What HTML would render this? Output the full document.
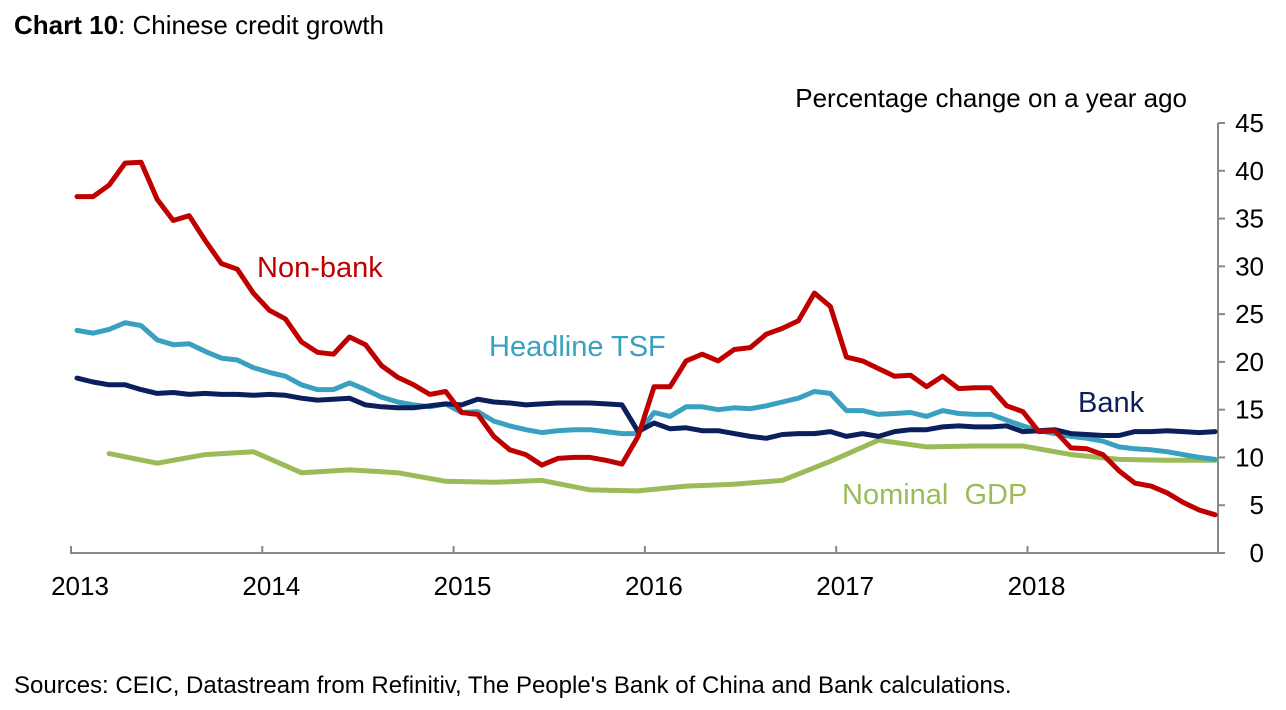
<!DOCTYPE html>
<html><head><meta charset="utf-8"><style>
body{margin:0;background:#fff;width:1286px;height:705px;overflow:hidden;font-family:"Liberation Sans",sans-serif}
</style></head><body>
<svg id="chart" width="1286" height="705" xmlns="http://www.w3.org/2000/svg" font-family="Liberation Sans, sans-serif">
<text x="14" y="34" font-size="26" fill="#000"><tspan font-weight="bold">Chart 10</tspan>: Chinese credit growth</text>
<text x="1187" y="107" font-size="26" text-anchor="end" fill="#000">Percentage change on a year ago</text>
<text x="14" y="693" font-size="24" fill="#000">Sources:  CEIC, Datastream from Refinitiv, The People's Bank of China and Bank calculations.</text>
<g id="axes"></g>
<g id="series"></g>
<text x="257" y="277" font-size="29" fill="#c00000">Non-bank</text>
<text x="489" y="356" font-size="29" fill="#3aa0c0">Headline TSF</text>
<text x="1078" y="412" font-size="29" fill="#0a1f5c">Bank</text>
<text x="842" y="504" font-size="29" fill="#9bbb59" xml:space="preserve">Nominal  GDP</text>
</svg>
<script>
const years=["2013","2014","2015","2016","2017","2018"];
const yTicks=[0,5,10,15,20,25,30,35,40,45];
const nonBank=[37.3,37.3,38.5,40.8,40.9,37,34.8,35.3,32.7,30.3,29.7,27.2,25.4,24.5,22.1,21,20.8,22.6,21.8,19.6,18.4,17.6,16.6,16.9,14.7,14.5,12.2,10.8,10.3,9.2,9.9,10,10,9.7,9.3,12.2,17.4,17.4,20.1,20.8,20.1,21.3,21.5,22.9,23.5,24.3,27.2,25.8,20.5,20.1,19.3,18.5,18.6,17.4,18.5,17.2,17.3,17.3,15.4,14.8,12.7,12.8,11,10.9,10.3,8.6,7.3,7,6.3,5.3,4.5,4];
const tsf=[23.3,23,23.4,24.1,23.8,22.3,21.8,21.9,21.1,20.4,20.2,19.4,18.9,18.5,17.6,17.1,17.1,17.8,17.1,16.3,15.8,15.5,15.3,15.6,14.7,14.8,13.8,13.3,12.9,12.6,12.8,12.9,12.9,12.7,12.5,12.5,14.7,14.3,15.3,15.3,15,15.2,15.1,15.4,15.8,16.2,16.9,16.7,14.9,14.9,14.5,14.6,14.7,14.3,14.9,14.6,14.5,14.5,13.9,13.3,12.8,12.5,12.2,12,11.7,11.1,10.9,10.8,10.6,10.3,10,9.8];
const bank=[18.3,17.9,17.6,17.6,17.1,16.7,16.8,16.6,16.7,16.6,16.6,16.5,16.6,16.5,16.2,16,16.1,16.2,15.5,15.3,15.2,15.2,15.4,15.6,15.5,16.1,15.8,15.7,15.5,15.6,15.7,15.7,15.7,15.6,15.5,12.7,13.6,13,13.1,12.8,12.8,12.5,12.2,12,12.4,12.5,12.5,12.7,12.2,12.5,12.2,12.7,12.9,12.9,13.2,13.3,13.2,13.2,13.3,12.7,12.8,12.9,12.5,12.4,12.3,12.3,12.7,12.7,12.8,12.7,12.6,12.7];
const gdpMonths=[2,5,8,11,14,17,20,23,26,29,32,35,38,41,44,47,50,53,56,59,62,65,68,71];
const gdp=[10.4,9.4,10.3,10.6,8.4,8.7,8.4,7.5,7.4,7.6,6.6,6.5,7.0,7.2,7.6,9.6,11.8,11.1,11.2,11.2,10.3,9.8,9.7,9.7];
const NS="http://www.w3.org/2000/svg";
const xM=i=>77+16.03*i;
const xYear=k=>71+191.3*k;
const yV=v=>553-v*(430/45);
function mk(tag,attrs,parent){const e=document.createElementNS(NS,tag);for(const k in attrs)e.setAttribute(k,attrs[k]);parent.appendChild(e);return e;}
const ax=document.getElementById('axes');
let e=mk('line',{x1:70,y1:553,x2:1218,y2:553,stroke:'#888','stroke-width':2},ax);


e=mk('line',{x1:1218,y1:123,x2:1218,y2:553,stroke:'#888','stroke-width':2},ax);


years.forEach((y,k)=>{
 const x=xYear(k);
 let t=mk('line',{x1:x,y1:546,x2:x,y2:553,stroke:'#888','stroke-width':2},ax);
 
 
 let l=mk('text',{x:x+9,y:595,'font-size':26,'text-anchor':'middle',fill:'#000'},ax);
 l.textContent=y;
 
 
});
yTicks.forEach(v=>{
 const y=yV(v);
 let t=mk('line',{x1:1218,y1:y,x2:1225,y2:y,stroke:'#888','stroke-width':2},ax);
 
 
 let l=mk('text',{x:1264,y:y+9,'font-size':26,'text-anchor':'end',fill:'#000'},ax);
 l.textContent=v;
 
 
});
const sg=document.getElementById('series');
function line(xs,vals,color,name){
 const d=vals.map((v,i)=>(i?'L':'M')+xs[i].toFixed(1)+','+yV(v).toFixed(1)).join('');
 const p=mk('path',{d:d,fill:'none',stroke:color,'stroke-width':5,'stroke-linejoin':'round','stroke-linecap':'round'},sg);
 
 
}
const mIdx=nonBank.map((_,i)=>xM(i));
line(gdpMonths.map(xM),gdp,'#9bbb59','nominal-gdp-line');
line(mIdx,tsf,'#3aa0c0','headline-tsf-line');
line(mIdx,bank,'#0a1f5c','bank-line');
line(mIdx,nonBank,'#c00000','non-bank-line');
</script>
</body></html>
